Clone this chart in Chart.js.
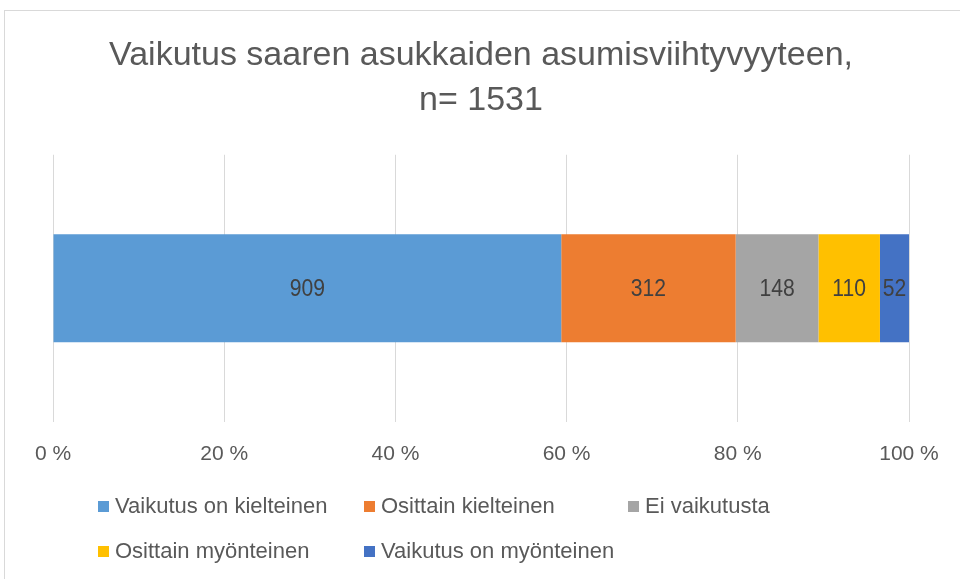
<!DOCTYPE html>
<html>
<head>
<meta charset="utf-8">
<script src="https://cdn.jsdelivr.net/npm/chart.js@4/dist/chart.umd.min.js"></script>
<style>
  html, body { margin: 0; padding: 0; background: #fff; }
  #wrap { width: 960px; height: 579px; }
</style>
</head>
<body>
<div id="wrap"><canvas id="myChart" width="960" height="579"></canvas></div>
<script>
// data
const titleLines = ['Vaikutus saaren asukkaiden asumisviihtyvyyteen,', 'n= 1531'];
const category = [''];
const seriesNames = ['Vaikutus on kielteinen', 'Osittain kielteinen', 'Ei vaikutusta', 'Osittain myönteinen', 'Vaikutus on myönteinen'];
const counts = [909, 312, 148, 110, 52];
const seriesColors = ['#5B9BD5', '#ED7D31', '#A5A5A5', '#FFC000', '#4472C4'];
const xTicks = [0, 20, 40, 60, 80, 100];

const FONT = '"Liberation Sans", Arial, sans-serif';
const total = counts.reduce((a, b) => a + b, 0);

const datasets = seriesNames.map((name, i) => ({
  label: name,
  data: [counts[i] / total * 100],
  count: counts[i],
  backgroundColor: seriesColors[i],
  borderWidth: 0,
  barPercentage: 0.81,
  categoryPercentage: 0.5
}));

// white bg + chart area border
const frame = {
  id: 'frame',
  beforeDraw(chart) {
    const ctx = chart.ctx;
    ctx.save();
    ctx.fillStyle = '#fff';
    ctx.fillRect(0, 0, chart.width, chart.height);
    ctx.strokeStyle = '#d9d9d9';
    ctx.lineWidth = 1;
    ctx.strokeRect(4.5, 10.5, 1000, 1000);
    ctx.restore();
  }
};

// counts in the middle of each segment (a bit condensed)
const barLabels = {
  id: 'barLabels',
  afterDatasetsDraw(chart) {
    const ctx = chart.ctx;
    chart.data.datasets.forEach((ds, i) => {
      chart.getDatasetMeta(i).data.forEach(el => {
        ctx.save();
        ctx.font = '24px ' + FONT;
        ctx.fillStyle = '#404040';
        ctx.textAlign = 'center';
        ctx.textBaseline = 'middle';
        ctx.translate((el.x + el.base) / 2, el.y + 1);
        ctx.scale(0.88, 1);
        ctx.fillText(String(ds.count), 0, 0);
        ctx.restore();
      });
    });
  }
};

// legend in fixed columns like excel
const gridLegend = {
  id: 'gridLegend',
  afterDraw(chart) {
    const ctx = chart.ctx;
    const cols = [98, 364, 628];
    const rows = [506, 551];
    ctx.save();
    ctx.font = '22px ' + FONT;
    ctx.textBaseline = 'middle';
    chart.data.datasets.forEach((ds, i) => {
      const x = cols[i % 3];
      const y = rows[Math.floor(i / 3)];
      ctx.fillStyle = ds.backgroundColor;
      ctx.fillRect(x, y - 5, 11, 11);
      ctx.fillStyle = '#595959';
      ctx.fillText(ds.label, x + 17, y + 1);
    });
    ctx.restore();
  }
};

new Chart(document.getElementById('myChart'), {
  type: 'bar',
  data: { labels: category, datasets: datasets },
  options: {
    indexAxis: 'y',
    responsive: false,
    animation: false,
    events: [],
    layout: { padding: { left: 53, right: 51, top: 0, bottom: 92 } },
    scales: {
      x: {
        stacked: true,
        min: 0,
        max: 100,
        afterBuildTicks(axis) { axis.ticks = xTicks.map(v => ({ value: v })); },
        grid: { color: '#d9d9d9', lineWidth: 1, drawTicks: false },
        border: { display: false },
        ticks: {
          padding: 20,
          color: '#595959',
          font: { family: FONT, size: 21 },
          callback: v => v + ' %'
        }
      },
      y: {
        stacked: true,
        display: false
      }
    },
    plugins: {
      legend: { display: false },
      tooltip: { enabled: false },
      title: {
        display: true,
        text: titleLines,
        color: '#595959',
        font: { family: FONT, size: 34, weight: 'normal', lineHeight: 1.32 },
        padding: { top: 33, bottom: 32 }
      }
    }
  },
  plugins: [frame, barLabels, gridLegend]
});
</script>
</body>
</html>
